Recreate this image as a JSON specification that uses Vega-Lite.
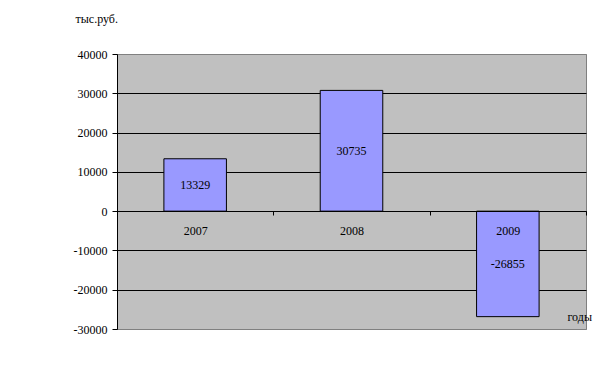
{
  "$schema": "https://vega.github.io/schema/vega-lite/v6.json",
  "width": 469,
  "height": 275,
  "autosize": {"type": "none"},
  "padding": {"left": 117, "top": 54, "right": 15, "bottom": 53},
  "background": "white",
  "config": {
    "view": {"fill": "#C0C0C0", "stroke": "#808080", "strokeWidth": 1},
    "font": "Liberation Serif"
  },
  "data": {
    "values": [
      {"year": "2007", "value": 13329},
      {"year": "2008", "value": 30735},
      {"year": "2009", "value": -26855}
    ]
  },
  "encoding": {
    "x": {
      "field": "year",
      "type": "nominal",
      "scale": {"paddingInner": 0, "paddingOuter": 0},
      "axis": {
        "orient": "bottom",
        "offset": -118,
        "zindex": 1,
        "labelAngle": 0,
        "labelFont": "Liberation Serif",
        "labelFontSize": 12,
        "labelColor": "black",
        "labelBaseline": "top",
        "labelPadding": 10,
        "tickBand": "extent",
        "tickSize": 4,
        "tickColor": "black",
        "domainColor": "black",
        "title": "годы",
        "titleFont": "Liberation Serif",
        "titleFontSize": 12,
        "titleFontWeight": "normal",
        "titleColor": "black",
        "titleAlign": "left",
        "titleBaseline": "middle",
        "titleX": 450,
        "titleY": 105
      }
    }
  },
  "resolve": {"axis": {"y": "independent"}},
  "layer": [
    {
      "mark": {"type": "bar", "color": "#9999FF", "stroke": "black", "strokeWidth": 1, "width": {"band": 0.4}},
      "encoding": {
        "y": {
          "field": "value",
          "type": "quantitative",
          "scale": {"domain": [-30000, 40000], "nice": false},
          "axis": {
            "values": [-30000, -20000, -10000, 0, 10000, 20000, 30000, 40000],
            "labelExpr": "toString(datum.value)",
            "labelOverlap": false,
            "labelBound": false,
            "labelFlush": false,
            "grid": true,
            "gridColor": {"condition": {"test": "datum.value === 40000 || datum.value === -30000", "value": "#808080"}, "value": "black"},
            "gridOpacity": 1,
            "tickSize": 5,
            "tickColor": "black",
            "domainColor": "black",
            "labelFont": "Liberation Serif",
            "labelFontSize": 12,
            "labelColor": "black",
            "labelPadding": 5,
            "title": "тыс.руб.",
            "titleFont": "Liberation Serif",
            "titleFontSize": 12,
            "titleFontWeight": "normal",
            "titleColor": "black",
            "titleAngle": 0,
            "titleAlign": "left",
            "titleBaseline": "middle",
            "titleX": -42,
            "titleY": -36
          }
        }
      }
    },
    {
      "transform": [{"calculate": "datum.value / 2", "as": "mid"}],
      "mark": {"type": "text", "font": "Liberation Serif", "fontSize": 12, "color": "black", "baseline": "middle"},
      "encoding": {
        "y": {"field": "mid", "type": "quantitative", "axis": null, "scale": {"domain": [-30000, 40000], "nice": false}},
        "text": {"field": "value", "type": "nominal"}
      }
    }
  ]
}
